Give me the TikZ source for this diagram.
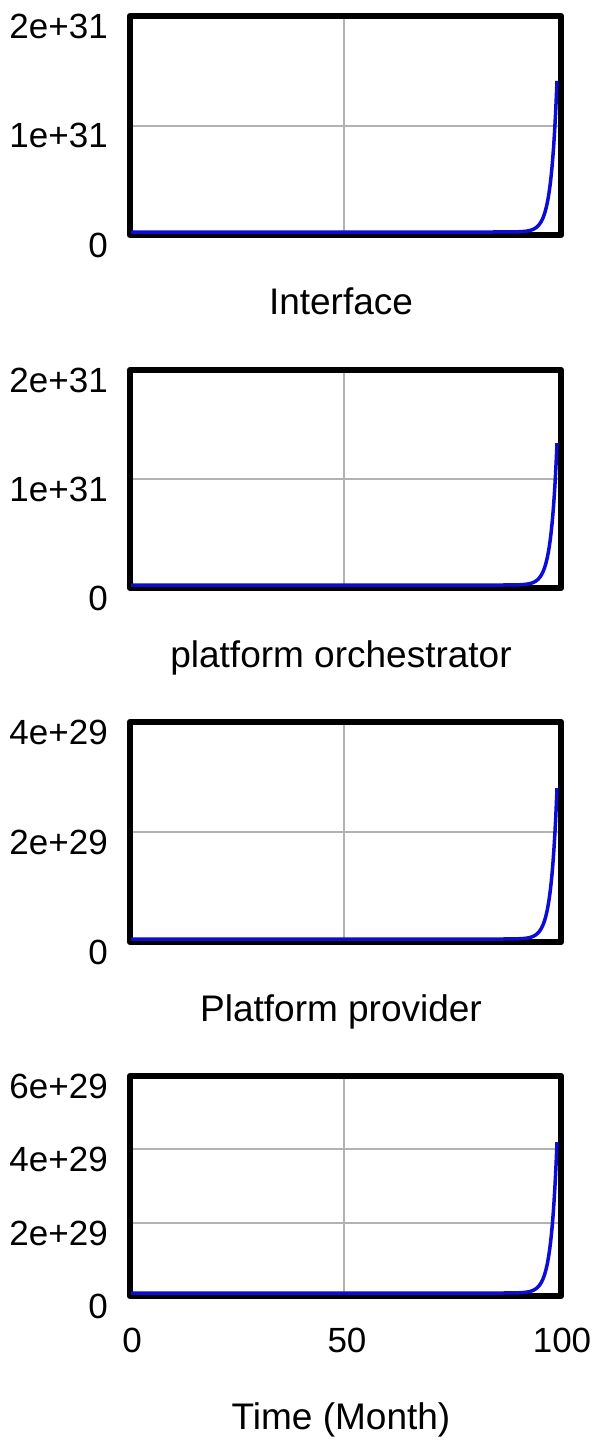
\documentclass[tikz,border=0pt]{standalone}
\usepackage{fontspec}
\setmainfont{Liberation Sans}
\usetikzlibrary{positioning}
\definecolor{gridgray}{RGB}{178,178,178}
\definecolor{runblue}{RGB}{12,12,215}

\begin{document}
\begin{tikzpicture}[x=1pt,y=-1pt,
		frame/.style={line width=6.5pt,line join=round},
		gridline/.style={gridgray,line width=2pt},
		run/.style={runblue,line width=3.5pt,line join=round},
		lab/.style={font=\fontsize{35}{40}\selectfont,inner sep=0pt},
		ttl/.style={font=\fontsize{37}{42}\selectfont,inner sep=0pt,anchor=base}]
	\useasboundingbox (0,0) rectangle (592,1445);
	\fill[white] (0,0) rectangle (592,1445);

	% the three panels with one halfway grid line
	\foreach \T/\B/\r/\hi/\mid/\ttl/\n in {16/235/0.70/2e+31/1e+31/Interface/a,
			370/588/0.66/2e+31/1e+31/platform orchestrator/b,
			722/942/0.695/4e+29/2e+29/Platform provider/c}{
		\draw[gridline] (344,\T) -- (344,\B);
		\draw[gridline] (130,{(\T+\B)/2}) -- (561,{(\T+\B)/2});
		\draw[frame] (130,\T) rectangle (561,\B);
		\draw[run] (131,\B-3) -- (131+4.26*85,\B-3)
			-- plot[domain=85:100,samples=90] ({131+4.26*\x},{\B-3-(\B-\T-3)*\r*exp(0.72*(\x-100))});
		\node[lab,anchor=east] (\n-hi) at (108,\T+10) {\hi};
		\node[lab,anchor=east] (\n-mid) at (108,{(\T+\B)/2+10}) {\mid};
		\node[lab,anchor=east] (\n-zero) at (108,\B+10) {0};
		\node[ttl] (\n-ttl) at (341,\B+79) {\ttl};
	}

	% last panel, with the time axis
	\def\T{1076}
	\def\B{1296}
	\draw[gridline] (344,\T) -- (344,\B);
	\draw[gridline] (130,\T+73.3) -- (561,\T+73.3);
	\draw[gridline] (130,\T+146.7) -- (561,\T+146.7);
	\draw[frame] (130,\T) rectangle (561,\B);
	\draw[run] (131,\B-3) -- (131+4.26*85,\B-3)
		-- plot[domain=85:100,samples=90] ({131+4.26*\x},{\B-3-(\B-\T-3)*0.695*exp(0.72*(\x-100))});
	\node[lab,anchor=east] (d-hi) at (108,\T+10) {6e+29};
	\node[lab,anchor=east] (d-mid) at (108,\T+83) {4e+29};
	\node[lab,anchor=east] (d-low) at (108,\T+157) {2e+29};
	\node[lab,anchor=east] (d-zero) at (108,\B+10) {0};

	\node[lab] (t0) at (132,1340) {0};
	\node[lab] (t50) at (347,1340) {50};
	\node[lab] (t100) at (562,1340) {100};
	\node[ttl] (time) at (341,1429) {Time (Month)};
\end{tikzpicture}
\end{document}
